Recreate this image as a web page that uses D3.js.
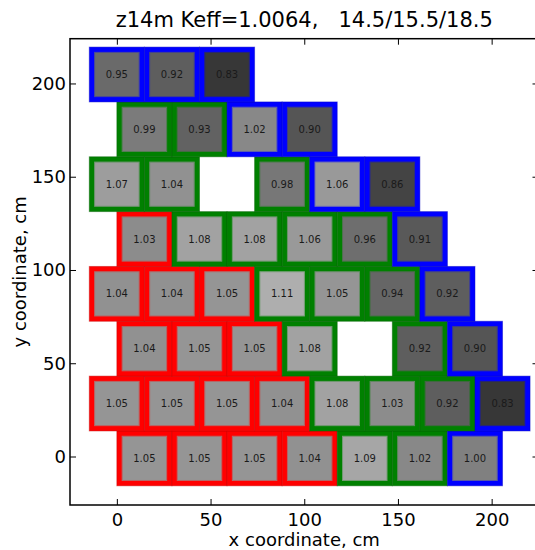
<!DOCTYPE html>
<html>
<head>
<meta charset="utf-8">
<script src="https://cdn.jsdelivr.net/npm/d3@7"></script>
<style>
  html, body { margin: 0; padding: 0; background: #fff; }
  svg { display: block; font-family: "DejaVu Sans", sans-serif; }
</style>
</head>
<body>
<svg id="chart" width="535" height="550"></svg>
<script>
// Core map: one row of assemblies per entry, listed bottom to top.
// rowStart is the x (cm) of the left edge of each row's first position.
const rowStart = [0, -14.7, 0, -14.7, 0, -14.7, 0, -14.7];
// Relative power per position; null marks an empty position.
const rowValues = [
  [1.05, 1.05, 1.05, 1.04, 1.09, 1.02, 1.00],
  [1.05, 1.05, 1.05, 1.04, 1.08, 1.03, 0.92, 0.83],
  [1.04, 1.05, 1.05, 1.08, null, 0.92, 0.90],
  [1.04, 1.04, 1.05, 1.11, 1.05, 0.94, 0.92],
  [1.03, 1.08, 1.08, 1.06, 0.96, 0.91],
  [1.07, 1.04, null, 0.98, 1.06, 0.86],
  [0.99, 0.93, 1.02, 0.90],
  [0.95, 0.92, 0.83]
];
// Enrichment zone per position: r / g / b.
const rowZones = [
  ["r", "r", "r", "r", "g", "g", "b"],
  ["r", "r", "r", "r", "g", "g", "g", "b"],
  ["r", "r", "r", "g", null, "g", "b"],
  ["r", "r", "r", "g", "g", "g", "b"],
  ["r", "g", "g", "g", "g", "b"],
  ["g", "g", null, "g", "b", "b"],
  ["g", "g", "b", "b"],
  ["b", "b", "b"]
];
const pitch = 29.4;          // assembly pitch, cm
const rowY0 = -1;            // y centre of the bottom row, cm
const xTicks = [0, 50, 100, 150, 200];
const yTicks = [0, 50, 100, 150, 200];
const titleText = "z14m Keff=1.0064,   14.5/15.5/18.5";
const xLabel = "x coordinate, cm";
const yLabel = "y coordinate, cm";

const zoneColor = { r: "#ff0000", g: "#008000", b: "#0000ff" };

const svg = d3.select("#chart");
const plot = { left: 70, right: 538.5, top: 38.7, bottom: 505 };

const x = d3.scaleLinear().domain([-25, 225]).range([plot.left, plot.right]);
const y = d3.scaleLinear().domain([-26, 224]).range([plot.bottom, plot.top]);
// matplotlib-style grey colour map
const grey = d3.scaleLinear().domain([0.7, 1.3]).range([0, 255]).clamp(true);
const greyFill = v => { const g = Math.round(grey(v)); return `rgb(${g},${g},${g})`; };

// Flatten rows into cells
const cells = [];
rowValues.forEach((vals, r) => {
  vals.forEach((v, i) => {
    if (v === null) return;
    const x0 = rowStart[r] + i * pitch;
    const yc = rowY0 + r * pitch;
    cells.push({ v, zone: rowZones[r][i], x0, x1: x0 + pitch, y0: yc - pitch / 2, y1: yc + pitch / 2 });
  });
});

const g = svg.append("g");
const inset = 5.3;

// Zone-coloured assembly outlines
g.selectAll("rect.outer").data(cells).join("rect")
  .attr("class", "outer")
  .attr("x", d => x(d.x0))
  .attr("y", d => y(d.y1))
  .attr("width", d => x(d.x1) - x(d.x0))
  .attr("height", d => y(d.y0) - y(d.y1))
  .attr("fill", d => zoneColor[d.zone])
  .attr("stroke", d => d3.color(zoneColor[d.zone]).darker(0.8))
  .attr("stroke-opacity", 0.45)
  .attr("stroke-width", 1);

// Grey fill by power
g.selectAll("rect.inner").data(cells).join("rect")
  .attr("class", "inner")
  .attr("x", d => x(d.x0) + inset)
  .attr("y", d => y(d.y1) + inset)
  .attr("width", d => x(d.x1) - x(d.x0) - 2 * inset)
  .attr("height", d => y(d.y0) - y(d.y1) - 2 * inset)
  .attr("fill", d => greyFill(d.v))
  .attr("stroke", d => d3.interpolateRgb(greyFill(d.v), zoneColor[d.zone])(0.3))
  .attr("stroke-width", 1);

g.selectAll("text.val").data(cells).join("text")
  .attr("class", "val")
  .attr("x", d => (x(d.x0) + x(d.x1)) / 2)
  .attr("y", d => (y(d.y0) + y(d.y1)) / 2)
  .attr("dy", "0.36em")
  .attr("text-anchor", "middle")
  .attr("font-size", 10)
  .attr("fill", "#1a1a1a")
  .text(d => d.v.toFixed(2));

// Axes with inward ticks on all four sides
const tickLen = 6;
const axB = svg.append("g").attr("transform", `translate(0,${plot.bottom})`)
  .call(d3.axisBottom(x).tickValues(xTicks).tickSizeInner(-tickLen).tickSizeOuter(0).tickPadding(8).tickFormat(d3.format("d")));
const axL = svg.append("g").attr("transform", `translate(${plot.left},0)`)
  .call(d3.axisLeft(y).tickValues(yTicks).tickSizeInner(-tickLen).tickSizeOuter(0).tickPadding(4).tickFormat(d3.format("d")));
const axT = svg.append("g").attr("transform", `translate(0,${plot.top})`)
  .call(d3.axisTop(x).tickValues(xTicks).tickSizeInner(-tickLen).tickSizeOuter(0).tickFormat(""));
const axR = svg.append("g").attr("transform", `translate(${plot.right},0)`)
  .call(d3.axisRight(y).tickValues(yTicks).tickSizeInner(-tickLen).tickSizeOuter(0).tickFormat(""));

[axB, axL, axT, axR].forEach(a => {
  a.select(".domain").remove();
  a.selectAll(".tick line").attr("stroke", "#000").attr("stroke-width", 1);
  a.selectAll(".tick text").attr("font-family", "DejaVu Sans, sans-serif").attr("font-size", 18).attr("fill", "#000");
});

// Frame
svg.append("rect")
  .attr("x", plot.left).attr("y", plot.top)
  .attr("width", plot.right - plot.left).attr("height", plot.bottom - plot.top)
  .attr("fill", "none").attr("stroke", "#000").attr("stroke-width", 1.5);

// Title and axis labels
const cx = (plot.left + plot.right) / 2;
svg.append("text").attr("x", cx).attr("y", 27).attr("text-anchor", "middle")
  .attr("font-size", 21).attr("fill", "#000").style("white-space", "pre").text(titleText);
svg.append("text").attr("x", cx).attr("y", 546).attr("text-anchor", "middle")
  .attr("font-size", 18).attr("fill", "#000").text(xLabel);
svg.append("text")
  .attr("transform", `translate(26,${(plot.top + plot.bottom) / 2}) rotate(-90)`)
  .attr("text-anchor", "middle").attr("font-size", 18).attr("fill", "#000").text(yLabel);
</script>
</body>
</html>
